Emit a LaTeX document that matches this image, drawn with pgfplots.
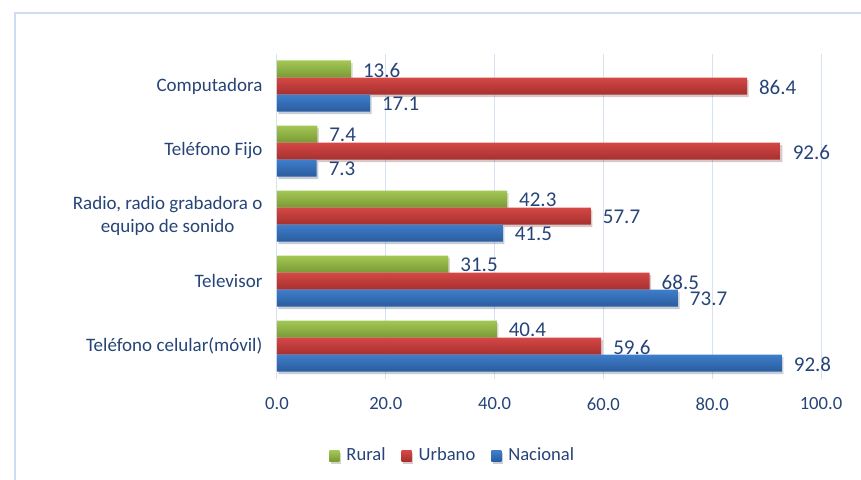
\documentclass[border=0pt]{standalone}
\usepackage{fontspec}
\setmainfont{Carlito}
\usepackage{pgfplots}
\pgfplotsset{compat=1.18}
\definecolor{txt}{RGB}{38,68,120}
\definecolor{gridc}{RGB}{214,226,242}
\definecolor{framec}{RGB}{204,221,243}
\definecolor{grnT}{RGB}{163,199,84}
\definecolor{grnB}{RGB}{122,154,54}
\definecolor{redT}{RGB}{212,72,70}
\definecolor{redB}{RGB}{166,48,46}
\definecolor{bluT}{RGB}{62,126,203}
\definecolor{bluB}{RGB}{43,92,158}
% one light-to-dark band per bar (the whole series is one path)
\newcommand\barshading[3]{%
  \pgfdeclareverticalshading{#1}{100bp}{%
    color(0bp)=(#3); color(25bp)=(#3); color(28.07bp)=(#2);
    color(36.73bp)=(#3); color(39.80bp)=(#2);
    color(48.47bp)=(#3); color(51.53bp)=(#2);
    color(60.20bp)=(#3); color(63.27bp)=(#2);
    color(71.93bp)=(#3); color(75bp)=(#2); color(100bp)=(#2)}}
\barshading{shG}{grnT}{grnB}
\barshading{shR}{redT}{redB}
\barshading{shB}{bluT}{bluB}
\tikzset{barshadow/.style={preaction={draw=none,fill=black,fill opacity=0.13,
  transform canvas={xshift=0.8pt,yshift=-1.3pt}}}}

\begin{document}
\begin{tikzpicture}
\useasboundingbox (-138.5pt,-50.75pt) rectangle (292pt,189.25pt);
\draw[framec,line width=0.8pt] (-131pt,-60pt) -- (-131pt,182.75pt) -- (300pt,182.75pt);
\begin{axis}[
  scale only axis, width=272pt, height=162.5pt,
  xbar=0pt, bar width=8.5pt,
  xmin=0, xmax=100, ymin=-0.5, ymax=4.5, y dir=reverse,
  axis line style={draw=none}, tick style={draw=none},
  xmajorgrids, major grid style={gridc,line width=0.5pt},
  xtick={0,20,...,100},
  xticklabels={0.0,20.0,40.0,60.0,80.0,100.0},
  xticklabel shift=6pt,
  ytick={0,1,2,3,4},
  yticklabels={Computadora,Teléfono Fijo,{Radio, radio grabadora o\\equipo de sonido},Televisor,Teléfono celular(móvil)},
  yticklabel style={align=center,font=\fontsize{9.5}{11.5}\selectfont,text=txt},
  yticklabel shift=-0.5pt,
  xticklabel style={font=\fontsize{9.3}{11}\selectfont,text=txt},
  nodes near coords,
  nodes near coords style={font=\fontsize{10.5}{12}\selectfont,text=txt,xshift=2.5pt,yshift=-0.6pt,
    /pgf/number format/.cd,fixed,fixed zerofill,precision=1,assume math mode=true},
  legend columns=3,
  legend style={at={(0.325,-0.238)},anchor=center,draw=none,fill=none,
    font=\fontsize{9.3}{11}\selectfont,text=txt,
    /tikz/every odd column/.append style={column sep=1.5pt},
    /tikz/every even column/.append style={column sep=6pt}},
]
\addplot[draw=none,bar shift=8.5pt,barshadow,shade,shading=shG,
  legend image code/.code={\shade[top color=grnT,bottom color=grnB] (0pt,-2.6pt) rectangle (5pt,2.6pt);}]
  coordinates {(13.6,0) (7.4,1) (42.3,2) (31.5,3) (40.4,4)};
\addplot[draw=none,bar shift=0pt,barshadow,shade,shading=shR,
  legend image code/.code={\shade[top color=redT,bottom color=redB] (0pt,-2.6pt) rectangle (5pt,2.6pt);}]
  coordinates {(86.4,0) (92.6,1) (57.7,2) (68.5,3) (59.6,4)};
\addplot[draw=none,bar shift=-8.5pt,barshadow,shade,shading=shB,
  legend image code/.code={\shade[top color=bluT,bottom color=bluB] (0pt,-2.6pt) rectangle (5pt,2.6pt);}]
  coordinates {(17.1,0) (7.3,1) (41.5,2) (73.7,3) (92.8,4)};
\legend{Rural,Urbano,Nacional}
\end{axis}
\end{tikzpicture}
\end{document}
